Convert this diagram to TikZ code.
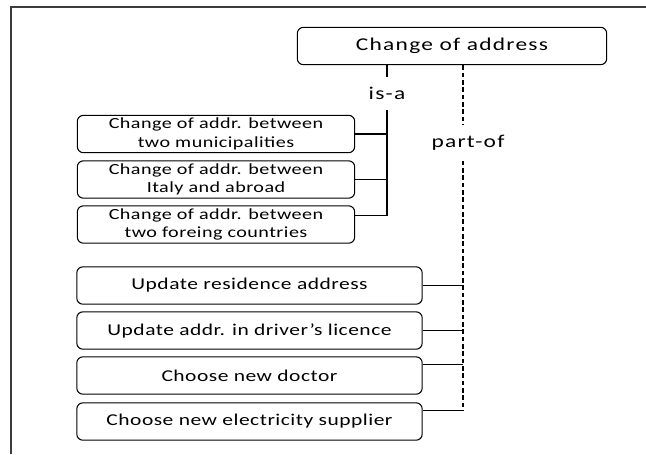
\documentclass[tikz,border=0pt]{standalone}
\usepackage{fontspec}
\setmainfont{Carlito}
\newfontfamily\bigfont[FakeStretch=1.3,LetterSpace=7]{Carlito}
\newfontfamily\smallfont[FakeStretch=1.3,LetterSpace=3]{Carlito}
\tikzset{
  mainbox/.style={draw, rounded corners=4.5pt, line width=0.8pt, minimum width=232pt, minimum height=28pt, inner sep=0pt, font=\bigfont\fontsize{13.5}{16}\selectfont},
  isabox/.style={draw, rounded corners=4.5pt, line width=0.8pt, minimum width=208pt, minimum height=28pt, inner sep=0pt, align=center, font=\smallfont\fontsize{11.6}{13.7}\selectfont},
  partbox/.style={isabox, minimum width=259pt, font=\smallfont\fontsize{12.4}{14}\selectfont},
  rellabel/.style={inner sep=0pt, minimum height=25pt, font=\bigfont\fontsize{13.5}{16}\selectfont},
  link/.style={line width=0.9pt}
}
\begin{document}
\begin{tikzpicture}[x=0.75pt,y=0.75pt,yscale=-1,xscale=1]
\useasboundingbox (0,0) rectangle (646,454);
%frame
\draw [color={rgb, 255:red, 60; green, 60; blue, 60 }, line width=0.9pt] (11,454) -- (11,7) -- (646,7) ;

% Main node
\node [mainbox] (main) at (452,46) {Change of address};
% is-a specialisations
\node [isabox] (spec1) at (216,134) {Change of addr. between\\two municipalities};
\node [isabox] (spec2) at (216,179.5) {Change of addr. between\\Italy and abroad};
\node [isabox] (spec3) at (216,224.5) {Change of addr. between\\two foreing countries};
% part-of components
\node [partbox] (part1) at (249.5,285.5) {Update residence address};
\node [partbox] (part2) at (249.5,330.5) {Update addr. in driver’s licence};
\node [partbox] (part3) at (249.5,375.5) {Choose new doctor};
\node [partbox] (part4) at (249.5,421.5) {Choose new electricity supplier};

% relation labels
\node [rellabel] (isa) at (387,93.5) {is-a};
\node [rellabel, minimum height=27pt] (partof) at (468,142.5) {part-of};
\coordinate (ptrunk) at (463,142.5);
\coordinate (spec3end) at ([yshift=-6.75pt]spec3.east);
\coordinate (part3end) at ([yshift=-8pt]part3.east);
\coordinate (part4end) at ([yshift=-8pt]part4.east);

% is-a tree
\draw [link] (isa.north |- main.south) -- (isa.north) ;
\draw [link] (isa.south) -- (isa.south |- spec3end) ;
\draw [link] (spec1.east) -- (spec1.east -| isa.south) ;
\draw [link] (spec2.east) -- (spec2.east -| isa.south) ;
\draw [link] (spec3end) -- (spec3end -| isa.south) ;

% part-of tree
\draw [link, dash pattern={on 3.5pt off 2pt}] (ptrunk |- main.south) -- (ptrunk |- partof.north) ;
\draw [link, dash pattern={on 3.5pt off 2pt}] (ptrunk |- partof.south) -- (ptrunk |- part4end) ;
\draw [link] (part1.east) -- (part1.east -| ptrunk) ;
\draw [link] (part2.east) -- (part2.east -| ptrunk) ;
\draw [link] (part3end) -- (part3end -| ptrunk) ;
\draw [link] (part4end) -- (part4end -| ptrunk) ;
\end{tikzpicture}
\end{document}
